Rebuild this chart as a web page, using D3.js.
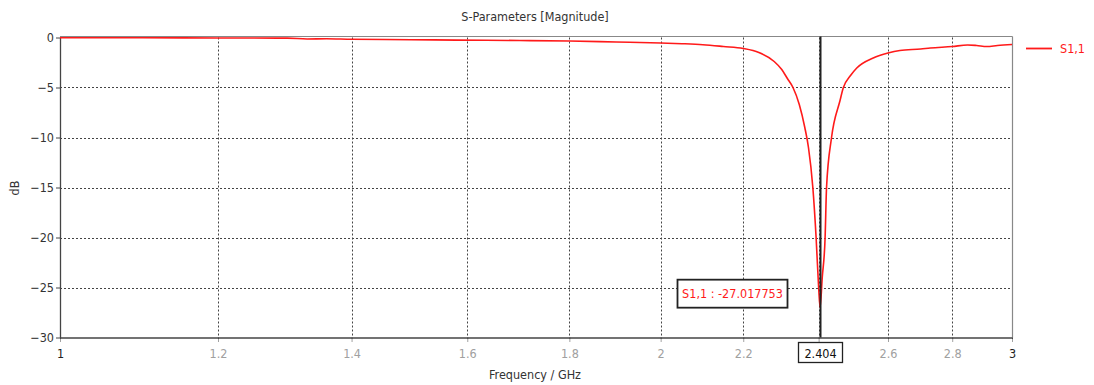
<!DOCTYPE html>
<html>
<head>
<meta charset="utf-8">
<script src="https://cdn.jsdelivr.net/npm/d3@7"></script>
<style>
  html, body { margin: 0; padding: 0; background: #fff; }
  svg { display: block; }
  text { font-family: "DejaVu Sans Condensed", "DejaVu Sans", sans-serif; }
</style>
</head>
<body>
<svg id="chart" width="1094" height="385"></svg>
<script>
// S11 reflection magnitude, frequency in GHz, magnitude in dB
const freqGHz = [1.00, 1.10, 1.20, 1.30, 1.33, 1.36, 1.40, 1.50, 1.58, 1.70, 1.80, 1.90, 2.00, 2.05, 2.10, 2.15, 2.20,
  2.24, 2.28, 2.30, 2.315, 2.33, 2.347, 2.362, 2.372, 2.384, 2.393, 2.400, 2.404, 2.410, 2.418, 2.422, 2.436,
  2.46, 2.469, 2.49, 2.508, 2.556, 2.60, 2.636, 2.70, 2.73, 2.80, 2.85, 2.88, 2.914, 2.95, 3.00];
const s11dB = [-0.02, -0.03, -0.05, -0.06, -0.15, -0.12, -0.18, -0.22, -0.26, -0.30, -0.35, -0.45, -0.55, -0.62, -0.72, -0.90, -1.10,
  -1.5, -2.4, -3.2, -4.1, -5.0, -6.7, -9.0, -11.0, -15.0, -20.0, -25.0, -27.017753, -24.0, -20.0, -15.0, -10.0,
  -6.3, -5.05, -3.8, -3.05, -2.05, -1.55, -1.3, -1.15, -1.05, -0.9, -0.75, -0.8, -0.9, -0.8, -0.7];

const xTicks = [1, 1.2, 1.4, 1.6, 1.8, 2, 2.2, 2.4, 2.6, 2.8, 3];
const yTicks = [0, -5, -10, -15, -20, -25, -30];

const markerFreq = 2.404;
const markerValue = -27.017753;
const seriesName = "S1,1";

const svg = d3.select("#chart");
const plotL = 60, plotR = 1012, plotT = 37.5, plotB = 337.5;

const x = d3.scaleLog().domain([1, 3]).range([plotL, plotR]);
const y = d3.scaleLinear().domain([-30, 0]).range([plotB, plotT]);

const red = "#ff1a1a";
const fs = 12.5;

// title
svg.append("text").attr("x", 535).attr("y", 21).attr("text-anchor", "middle")
  .attr("font-size", fs).attr("fill", "#333").text("S-Parameters [Magnitude]");

// grid
const grid = svg.append("g").attr("stroke", "#444").attr("stroke-width", 1).attr("stroke-dasharray", "2,2");
grid.selectAll("line.v").data(xTicks.filter(d => d !== 1 && d !== 3)).join("line")
  .attr("class", "v")
  .attr("x1", d => Math.round(x(d)) + 0.5).attr("x2", d => Math.round(x(d)) + 0.5)
  .attr("y1", plotT).attr("y2", plotB);
grid.selectAll("line.h").data(yTicks.filter(d => d !== 0 && d !== -30)).join("line")
  .attr("class", "h")
  .attr("x1", plotL).attr("x2", plotR)
  .attr("y1", d => Math.round(y(d)) + 0.5).attr("y2", d => Math.round(y(d)) + 0.5);

// frame: top and right in gray, left and bottom axes dark
svg.append("line").attr("x1", plotL).attr("x2", plotR + 0.5).attr("y1", plotT - 1).attr("y2", plotT - 1)
  .attr("stroke", "#888").attr("stroke-width", 1.2);
svg.append("line").attr("x1", plotR + 0.5).attr("x2", plotR + 0.5).attr("y1", plotT - 1).attr("y2", plotB)
  .attr("stroke", "#888").attr("stroke-width", 1.2);

// x axis; the label at the marker frequency is replaced by the marker box
const xAxis = d3.axisBottom(x).tickValues(xTicks).tickSize(4).tickSizeOuter(0)
  .tickFormat(d => Math.abs(d - markerFreq) < 0.01 ? "" : String(+d.toFixed(1)));
const gx = svg.append("g").attr("transform", `translate(0,${plotB})`).call(xAxis);
gx.select(".domain").attr("stroke", "#444").attr("stroke-width", 1.3);
gx.selectAll(".tick line").attr("stroke", "#444").attr("stroke-dasharray", "2,1");
gx.selectAll(".tick text").attr("font-size", fs).attr("dy", "1.1em")
  .attr("fill", d => (d === 1 || d === 3) ? "#222" : "#a0a0a0");

// y axis
const yAxis = d3.axisLeft(y).tickValues(yTicks).tickSize(4).tickSizeOuter(0);
const gy = svg.append("g").attr("transform", `translate(${plotL},0)`).call(yAxis);
gy.select(".domain").attr("stroke", "#444").attr("stroke-width", 1.3);
gy.selectAll(".tick line").attr("stroke", "#444");
gy.selectAll(".tick text").attr("font-size", fs).attr("fill", "#333").attr("x", -6);

// axis titles
svg.append("text").attr("x", 535).attr("y", 379).attr("text-anchor", "middle")
  .attr("font-size", fs).attr("fill", "#333").text("Frequency / GHz");
svg.append("text").attr("transform", "translate(19,188) rotate(-90)").attr("text-anchor", "middle")
  .attr("font-size", fs).attr("fill", "#333").text("dB");

// series curve
const pts = freqGHz.map((f, i) => [f, s11dB[i]]);
const line = d3.line().x(d => x(d[0])).y(d => y(d[1])).curve(d3.curveMonotoneX);
svg.append("path").datum(pts).attr("d", line)
  .attr("fill", "none").attr("stroke", red).attr("stroke-width", 1.6);

// marker line
const mx = Math.round(x(markerFreq)) + 0.5;
svg.append("line").attr("x1", mx).attr("x2", mx).attr("y1", plotT - 1).attr("y2", plotB)
  .attr("stroke", "#222").attr("stroke-width", 2);

// marker frequency box under the axis
const fb = svg.append("g").attr("transform", `translate(${mx},${plotB + 5})`);
fb.append("rect").attr("x", -22).attr("y", 0).attr("width", 44).attr("height", 20)
  .attr("fill", "#fff").attr("stroke", "#222").attr("stroke-width", 1.3);
fb.append("text").attr("x", 0).attr("y", 15).attr("text-anchor", "middle")
  .attr("font-size", fs).attr("fill", "#111").text(d3.format(".3f")(markerFreq));

// marker value box
const vb = svg.append("g").attr("transform", `translate(${mx - 143},${y(markerValue) - 28})`);
vb.append("rect").attr("x", 0).attr("y", 0).attr("width", 110).attr("height", 28)
  .attr("fill", "#fff").attr("stroke", "#222").attr("stroke-width", 1.8);
vb.append("text").attr("x", 55).attr("y", 18.5).attr("text-anchor", "middle")
  .attr("font-size", fs).attr("fill", red).text(`${seriesName} : ${markerValue.toFixed(6)}`);

// legend
svg.append("line").attr("x1", 1026).attr("x2", 1052).attr("y1", 48.5).attr("y2", 48.5)
  .attr("stroke", red).attr("stroke-width", 1.8);
svg.append("text").attr("x", 1060).attr("y", 53).attr("font-size", fs).attr("fill", red).text(seriesName);
</script>
</body>
</html>
